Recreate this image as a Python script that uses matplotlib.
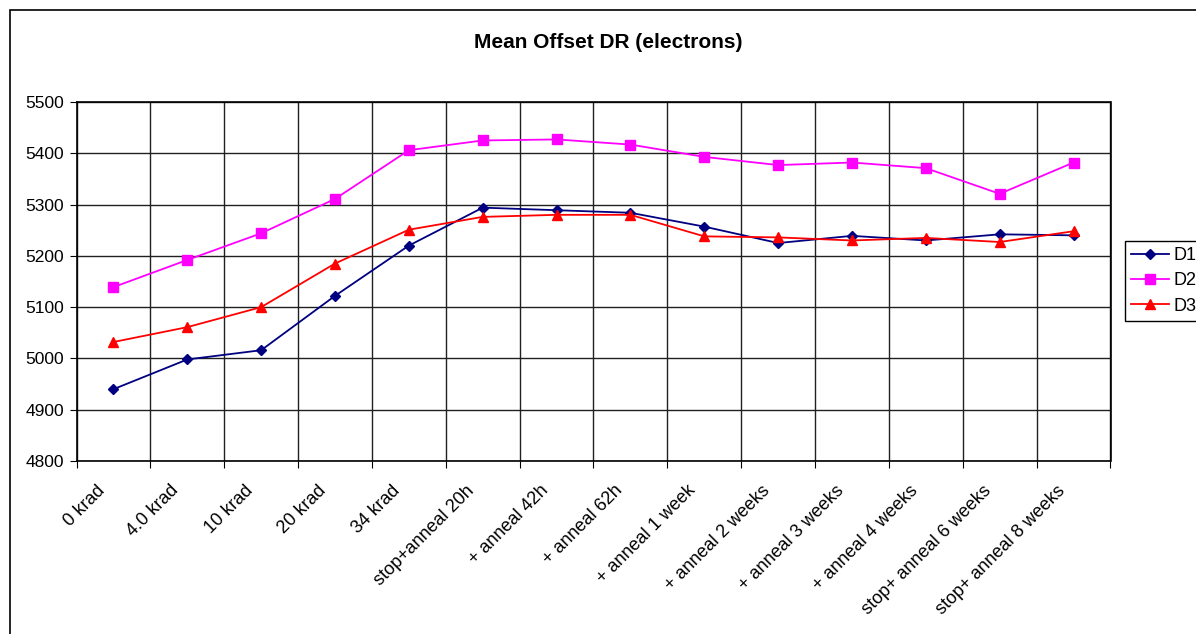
import matplotlib.pyplot as plt
from matplotlib.patches import Rectangle

plt.rcParams['font.family'] = ['Liberation Sans', 'DejaVu Sans']

categories = ["0 krad", "4.0 krad", "10 krad", "20 krad", "34 krad",
              "stop+anneal 20h", "+ anneal 42h", "+ anneal 62h",
              "+ anneal 1 week", "+ anneal 2 weeks", "+ anneal 3 weeks",
              "+ anneal 4 weeks", "stop+ anneal 6 weeks", "stop+ anneal 8 weeks"]

d1 = [4940, 4998, 5016, 5122, 5220, 5294, 5289, 5284, 5257, 5225, 5239, 5230, 5242, 5240]
d2 = [5139, 5192, 5244, 5311, 5406, 5425, 5427, 5417, 5393, 5377, 5382, 5371, 5321, 5382]
d3 = [5032, 5061, 5100, 5185, 5251, 5276, 5280, 5280, 5238, 5236, 5230, 5235, 5227, 5248]

W, H = 1196, 634
fig = plt.figure(figsize=(W / 100, H / 100), dpi=100)
ax = fig.add_axes([76.5 / W, 1 - 461 / H, (1110.5 - 76.5) / W, (461 - 102) / H])

# outer chart frame
fig.patches.append(Rectangle((9.5 / W, -0.05), 1.1, 1 - 10 / H + 0.05,
                             transform=fig.transFigure, fill=False,
                             edgecolor='black', linewidth=1.2))

x = list(range(len(categories)))
ax.plot(x, d1, color='#000080', marker='D', markersize=5.5, linewidth=1.3, label='D1')
ax.plot(x, d2, color='#ff00ff', marker='s', markersize=6.5, linewidth=1.3, label='D2')
ax.plot(x, d3, color='#ff0000', marker='^', markersize=7.5, linewidth=1.3, label='D3')

ax.set_xlim(-0.5, len(categories) - 0.5)
ax.set_ylim(4800, 5500)
ax.set_yticks(range(4800, 5501, 100))

# category gridlines sit between the points
ax.set_xticks([i - 0.5 for i in range(len(categories) + 1)])
ax.set_xticklabels([])
ax.tick_params(axis='x', length=5, direction='out', color='black')
ax.tick_params(axis='y', length=5, direction='out', labelsize=12.5, pad=4)

# slanted category labels, right end tucked just left of each category
for i, name in enumerate(categories):
    ax.annotate(name, xy=(i, 0), xycoords=('data', 'axes fraction'),
                xytext=(-11, -27), textcoords='offset pixels',
                rotation=45, rotation_mode='anchor', ha='right', va='center',
                fontsize=13, annotation_clip=False)

ax.grid(True, color='#202020', linewidth=1.0)
for s in ax.spines.values():
    s.set_color('black')
    s.set_linewidth(1.2)

fig.text(608 / W, 1 - 43 / H, "Mean Offset DR (electrons)", ha='center', va='center',
         fontsize=15, fontweight='bold')

leg = fig.legend(loc='upper left', bbox_to_anchor=(1125 / W, 1 - 241 / H),
                 fontsize=13, fancybox=False, framealpha=1, edgecolor='black',
                 borderpad=0.35, handlelength=2.1, handletextpad=0.25,
                 labelspacing=0.45, borderaxespad=0)
leg.get_frame().set_linewidth(1.0)

fig.savefig('out.png', dpi=100)
